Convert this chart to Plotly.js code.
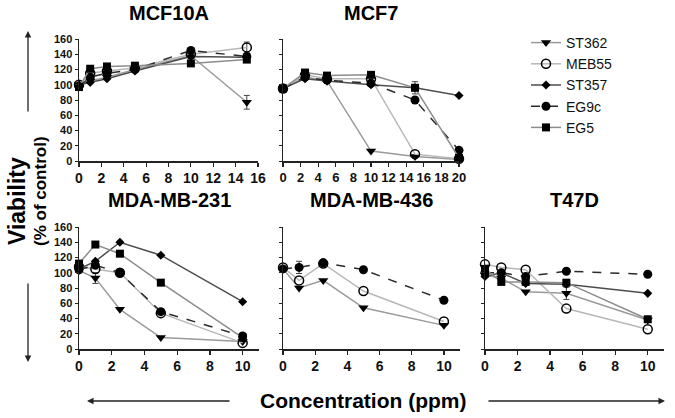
<!DOCTYPE html>
<html>
<head>
<meta charset="utf-8">
<script src="https://cdn.plot.ly/plotly-3.0.1.min.js"></script>
<style>
  html, body { margin: 0; padding: 0; background: #fff; }
  #chart { width: 675px; height: 418px; }
</style>
</head>
<body>
<div id="chart"></div>
<script>
// concentrations (ppm)
const concMCF10A = [0, 1, 2.5, 5, 10, 15];
const concMCF7 = [0, 2.5, 5, 10, 15, 20];
const concLower = [0, 1, 2.5, 5, 10];

// viability (% of control), MCF10A
const st362_10A = [100, 105, 110, 120, 138, 77];
const meb55_10A = [100, 115, 118, 122, 140, 149];
const st357_10A = [100, 103, 108, 118, 137, 136];
const eg9c_10A = [98, 110, 115, 120, 145, 137];
const eg5_10A = [97, 121, 124, 125, 128, 133];
const st362_10A_err = [0, 0, 0, 0, 0, 9];
const meb55_10A_err = [0, 0, 0, 0, 0, 7];

// MCF7
const st362_7 = [95, 110, 105, 13, 6, 2];
const meb55_7 = [95, 113, 108, 108, 9, 3];
const st357_7 = [95, 108, 105, 100, 96, 86];
const eg9c_7 = [95, 110, 106, 102, 80, 14];
const eg5_7 = [95, 116, 112, 113, 96, 4];
const eg5_7_err = [0, 0, 0, 0, 8, 0];

// MDA-MB-231
const st362_231 = [103, 93, 52, 15, 10];
const meb55_231 = [108, 105, 100, 47, 8];
const st357_231 = [105, 115, 140, 123, 62];
const eg9c_231 = [104, 110, 100, 49, 17];
const eg5_231 = [112, 137, 125, 87, 15];
const st362_231_err = [0, 7, 0, 0, 0];

// MDA-MB-436
const st362_436 = [105, 80, 90, 54, 31];
const meb55_436 = [107, 90, 112, 76, 36];
const eg9c_436 = [105, 107, 113, 104, 64];
const eg9c_436_err = [0, 8, 0, 0, 0];

// T47D
const st362_T47 = [97, 93, 75, 73, 38];
const meb55_T47 = [111, 107, 104, 53, 26];
const st357_T47 = [95, 100, 86, 85, 73];
const eg9c_T47 = [100, 100, 95, 102, 98];
const eg5_T47 = [105, 88, 88, 87, 39];
const st362_T47_err = [0, 0, 0, 8, 0];

const FONT = 'Liberation Sans, Arial, sans-serif';

// look of each compound
const estilos = {
    ST362: { symbol: 'triangle-down', size: 9, line: '#9a9a9a', dash: 'solid' },
    MEB55: { symbol: 'circle-open', size: 9, line: '#b8b8b8', dash: 'solid' },
    ST357: { symbol: 'diamond', size: 7, line: '#4d4d4d', dash: 'solid' },
    EG9c: { symbol: 'circle', size: 9, line: '#2b2b2b', dash: 'dash' },
    EG5: { symbol: 'square', size: 8, line: '#8c8c8c', dash: 'solid' }
};

function serie(nombre, x, y, eje, mostrar, err) {
    const e = estilos[nombre];
    const t = {
        x: x,
        y: y,
        name: nombre,
        legendgroup: nombre,
        showlegend: mostrar,
        type: 'scatter',
        mode: 'lines+markers',
        xaxis: 'x' + eje,
        yaxis: 'y' + eje,
        cliponaxis: false,
        line: { color: e.line, width: 1.5, dash: e.dash },
        marker: {
            symbol: e.symbol,
            size: e.size,
            color: '#000',
            line: { color: '#000', width: e.symbol === 'circle-open' ? 1.5 : 0 }
        }
    };
    if (err) {
        t.error_y = { type: 'data', array: err, visible: true, color: '#444', thickness: 1, width: 3 };
    }
    return t;
}

const data = [
    serie('ST362', concMCF10A, st362_10A, '', true, st362_10A_err),
    serie('MEB55', concMCF10A, meb55_10A, '', true, meb55_10A_err),
    serie('ST357', concMCF10A, st357_10A, '', true),
    serie('EG9c', concMCF10A, eg9c_10A, '', true),
    serie('EG5', concMCF10A, eg5_10A, '', true),

    serie('ST362', concMCF7, st362_7, '2', false),
    serie('MEB55', concMCF7, meb55_7, '2', false),
    serie('ST357', concMCF7, st357_7, '2', false),
    serie('EG9c', concMCF7, eg9c_7, '2', false),
    serie('EG5', concMCF7, eg5_7, '2', false, eg5_7_err),

    serie('ST362', concLower, st362_231, '3', false, st362_231_err),
    serie('MEB55', concLower, meb55_231, '3', false),
    serie('ST357', concLower, st357_231, '3', false),
    serie('EG9c', concLower, eg9c_231, '3', false),
    serie('EG5', concLower, eg5_231, '3', false),

    serie('ST362', concLower, st362_436, '4', false),
    serie('MEB55', concLower, meb55_436, '4', false),
    serie('EG9c', concLower, eg9c_436, '4', false, eg9c_436_err),

    serie('ST362', concLower, st362_T47, '5', false, st362_T47_err),
    serie('MEB55', concLower, meb55_T47, '5', false),
    serie('ST357', concLower, st357_T47, '5', false),
    serie('EG9c', concLower, eg9c_T47, '5', false),
    serie('EG5', concLower, eg5_T47, '5', false)
];

function ejeX(dominio, rango, ancla, tam) {
    return {
        domain: dominio, range: rango, anchor: ancla, dtick: 2, tickangle: 0,
        showgrid: false, zeroline: false, showline: true, linecolor: '#222', linewidth: 1.5,
        ticks: 'outside', ticklen: 4, tickcolor: '#222', tickwidth: 1.2,
        tickfont: { family: FONT, size: tam, color: '#111', weight: 'bold' }
    };
}

function ejeY(dominio, ancla, etiquetas) {
    return {
        domain: dominio, range: [0, 160], anchor: ancla, dtick: 20,
        showgrid: false, zeroline: false, showline: true, linecolor: '#222', linewidth: 1.5,
        ticks: 'outside', ticklen: 3, tickcolor: '#222', tickwidth: 1,
        showticklabels: etiquetas,
        tickfont: { family: FONT, size: 11, color: '#111', weight: 'bold' }
    };
}

const W = 675, H = 418;
const filaArriba = [1 - 161 / H, 1 - 39 / H];
const filaAbajo = [1 - 349 / H, 1 - 227 / H];

function titulo(texto, ejeRef, y) {
    return {
        text: texto, xref: ejeRef + ' domain', x: 0.5, yref: 'paper', y: 1 - y / H,
        xanchor: 'center', yanchor: 'middle',
        showarrow: false, font: { family: FONT, size: 20, color: '#000', weight: 'bold' }
    };
}

function texto(t, x, y, size, angulo) {
    return {
        text: t, xref: 'paper', yref: 'paper', x: x / W, y: 1 - y / H,
        xanchor: 'center', yanchor: 'middle', textangle: angulo, showarrow: false,
        font: { family: FONT, size: size, color: '#000', weight: 'bold' }
    };
}

function flecha(x, y, ax, ay) {
    return {
        x: x / W, y: 1 - y / H, xref: 'paper', yref: 'paper', ax: ax, ay: ay,
        text: '', showarrow: true, arrowhead: 2, arrowsize: 1, arrowwidth: 1.3, arrowcolor: '#222'
    };
}

const layout = {
    width: W,
    height: H,
    margin: { l: 0, r: 0, t: 0, b: 0 },
    paper_bgcolor: '#fff',
    plot_bgcolor: 'rgba(0,0,0,0)',
    font: { family: FONT, color: '#000' },
    xaxis: ejeX([79 / W, 258 / W], [0, 16], 'y', 14),
    yaxis: ejeY(filaArriba, 'x', true),
    xaxis2: ejeX([283 / W, 459 / W], [0, 20], 'y2', 13),
    yaxis2: ejeY(filaArriba, 'x2', false),
    xaxis3: ejeX([79 / W, 259 / W], [0, 11], 'y3', 14),
    yaxis3: ejeY(filaAbajo, 'x3', true),
    xaxis4: ejeX([283 / W, 460 / W], [0, 11], 'y4', 14),
    yaxis4: ejeY(filaAbajo, 'x4', false),
    xaxis5: ejeX([485 / W, 664 / W], [0, 11], 'y5', 14),
    yaxis5: ejeY(filaAbajo, 'x5', false),
    legend: {
        x: 526 / W, y: 1 - 27 / H, xanchor: 'left', yanchor: 'top',
        bgcolor: 'rgba(0,0,0,0)',
        tracegroupgap: 0,
        itemwidth: 30,
        font: { family: FONT, size: 14, color: '#111' }
    },
    annotations: [
        titulo('MCF10A', 'x', 13),
        titulo('MCF7', 'x2', 13),
        titulo('MDA-MB-231', 'x3', 200),
        titulo('MDA-MB-436', 'x4', 200),
        titulo('T47D', 'x5', 200),
        texto('Viability', 17, 201, 23, -90),
        texto('(% of control)', 40, 191, 17, -90),
        texto('Concentration (ppm)', 363, 400, 21, 0),
        flecha(28, 31, 0, 82),
        flecha(28, 362, 0, -80),
        flecha(87, 401, 144, 0),
        flecha(665, 401, -178, 0)
    ]
};

Plotly.newPlot('chart', data, layout, { displayModeBar: false, staticPlot: true });
</script>
</body>
</html>
